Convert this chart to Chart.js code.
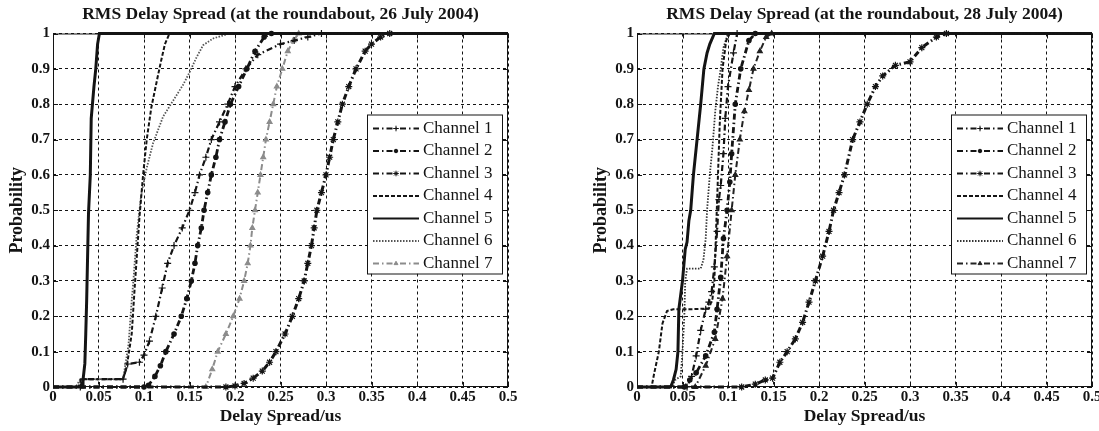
<!DOCTYPE html>
<html>
<head>
<meta charset="utf-8">
<script src="https://cdn.jsdelivr.net/npm/chart.js@4.4.1/dist/chart.umd.min.js"></script>
<style>
  html, body { margin: 0; padding: 0; background: #fff; overflow: hidden; }
  #wrap { position: relative; width: 1099px; height: 431px; overflow: hidden; }
  canvas { position: absolute; top: 0; }
  #left { left: 0; }
  #right { left: 584px; }
</style>
</head>
<body>
<div id="wrap">
  <canvas id="left" width="549" height="431"></canvas>
  <canvas id="right" width="549" height="431"></canvas>
</div>
<script>
const channelNames = ['Channel 1', 'Channel 2', 'Channel 3', 'Channel 4', 'Channel 5', 'Channel 6', 'Channel 7'];
const xTickLabels = ['0', '0.05', '0.1', '0.15', '0.2', '0.25', '0.3', '0.35', '0.4', '0.45', '0.5'];
const yTickLabels = ['0', '0.1', '0.2', '0.3', '0.4', '0.5', '0.6', '0.7', '0.8', '0.9', '1'];

// 26 July 2004: [delay spread (us), cumulative probability]
const jul26Ch1 = [[0,0],[0.03,0],[0.033,0.022],[0.077,0.022],[0.082,0.065],[0.095,0.07],[0.1,0.09],[0.106,0.13],
  [0.113,0.2],[0.12,0.28],[0.126,0.35],[0.133,0.4],[0.142,0.45],[0.15,0.5],[0.156,0.55],[0.161,0.6],[0.168,0.65],
  [0.174,0.7],[0.183,0.75],[0.192,0.8],[0.2,0.85],[0.212,0.9],[0.225,0.94],[0.25,0.97],[0.265,0.98],[0.28,0.99],[0.295,1],[0.5,1]];
const jul26Ch2 = [[0,0],[0.1,0],[0.105,0.005],[0.112,0.03],[0.118,0.06],[0.124,0.1],[0.133,0.15],[0.141,0.2],[0.147,0.25],
  [0.152,0.3],[0.156,0.35],[0.159,0.4],[0.163,0.45],[0.166,0.5],[0.17,0.55],[0.174,0.6],[0.179,0.65],[0.183,0.7],
  [0.189,0.75],[0.195,0.8],[0.204,0.85],[0.213,0.9],[0.222,0.95],[0.232,0.99],[0.24,1],[0.5,1]];
const jul26Ch3 = [[0,0],[0.19,0],[0.2,0.003],[0.21,0.01],[0.22,0.025],[0.23,0.045],[0.238,0.07],[0.245,0.1],[0.255,0.15],
  [0.263,0.2],[0.27,0.25],[0.276,0.3],[0.28,0.35],[0.284,0.4],[0.287,0.45],[0.29,0.5],[0.295,0.55],[0.3,0.6],[0.304,0.65],
  [0.308,0.7],[0.313,0.75],[0.318,0.8],[0.325,0.85],[0.333,0.9],[0.343,0.95],[0.35,0.97],[0.36,0.99],[0.37,1],[0.5,1]];
const jul26Ch4 = [[0,0],[0.028,0],[0.031,0.022],[0.077,0.022],[0.081,0.057],[0.0865,0.15],[0.09,0.29],[0.095,0.48],
  [0.099,0.6],[0.103,0.7],[0.108,0.79],[0.115,0.877],[0.119,0.925],[0.123,0.97],[0.128,1],[0.5,1]];
const jul26Ch5 = [[0,0],[0.033,0],[0.033,0.02],[0.035,0.066],[0.036,0.15],[0.037,0.245],[0.039,0.49],[0.041,0.6],
  [0.042,0.76],[0.045,0.85],[0.047,0.9],[0.049,0.97],[0.051,1],[0.5,1]];
const jul26Ch6 = [[0,0],[0.025,0],[0.03,0.022],[0.077,0.022],[0.083,0.12],[0.0865,0.245],[0.088,0.29],[0.092,0.43],
  [0.097,0.545],[0.103,0.62],[0.11,0.69],[0.121,0.765],[0.132,0.81],[0.143,0.855],[0.15,0.89],[0.158,0.934],
  [0.165,0.967],[0.176,0.986],[0.194,1],[0.5,1]];
const jul26Ch7 = [[0,0],[0.168,0],[0.175,0.05],[0.181,0.1],[0.19,0.15],[0.198,0.2],[0.205,0.25],[0.21,0.3],[0.214,0.35],
  [0.217,0.4],[0.219,0.45],[0.222,0.5],[0.225,0.55],[0.228,0.6],[0.231,0.65],[0.234,0.7],[0.238,0.75],[0.242,0.8],
  [0.246,0.85],[0.252,0.9],[0.258,0.95],[0.264,0.98],[0.27,1],[0.5,1]];

// 28 July 2004
const jul28Ch1 = [[0,0],[0.055,0],[0.06,0.03],[0.065,0.088],[0.07,0.16],[0.0755,0.22],[0.079,0.24],[0.082,0.27],
  [0.085,0.34],[0.088,0.44],[0.09,0.53],[0.092,0.57],[0.095,0.66],[0.097,0.76],[0.1,0.85],[0.106,0.945],[0.11,1],[0.5,1]];
const jul28Ch2 = [[0,0],[0.052,0],[0.058,0.02],[0.065,0.04],[0.0755,0.088],[0.085,0.155],[0.088,0.22],[0.092,0.31],
  [0.095,0.42],[0.099,0.5],[0.102,0.58],[0.104,0.66],[0.108,0.8],[0.114,0.9],[0.123,0.98],[0.13,1],[0.5,1]];
const jul28Ch3 = [[0,0],[0.115,0],[0.13,0.008],[0.141,0.02],[0.149,0.025],[0.157,0.07],[0.165,0.1],[0.174,0.136],
  [0.182,0.183],[0.189,0.24],[0.196,0.3],[0.204,0.37],[0.211,0.44],[0.216,0.5],[0.222,0.55],[0.228,0.6],[0.237,0.7],
  [0.245,0.75],[0.253,0.8],[0.262,0.85],[0.27,0.88],[0.284,0.91],[0.3,0.92],[0.313,0.96],[0.329,0.99],[0.34,1],[0.5,1]];
const jul28Ch4 = [[0,0],[0.016,0],[0.019,0.04],[0.024,0.1],[0.028,0.18],[0.033,0.215],[0.04,0.22],[0.06,0.22],
  [0.079,0.222],[0.083,0.25],[0.085,0.3],[0.087,0.45],[0.089,0.6],[0.091,0.75],[0.094,0.9],[0.098,0.98],[0.102,1],[0.5,1]];
const jul28Ch5 = [[0,0],[0.037,0],[0.04,0.02],[0.043,0.05],[0.045,0.1],[0.046,0.22],[0.05,0.3],[0.053,0.39],[0.055,0.41],
  [0.057,0.47],[0.059,0.5],[0.062,0.6],[0.066,0.7],[0.07,0.8],[0.0735,0.9],[0.077,0.945],[0.08,0.97],[0.085,1],[0.5,1]];
const jul28Ch6 = [[0,0],[0.038,0],[0.042,0.02],[0.048,0.03],[0.05,0.1],[0.052,0.2],[0.053,0.3],[0.055,0.335],[0.07,0.335],
  [0.073,0.36],[0.0755,0.42],[0.077,0.5],[0.08,0.6],[0.083,0.68],[0.086,0.78],[0.089,0.85],[0.092,0.9],[0.095,0.96],[0.1,1],[0.5,1]];
const jul28Ch7 = [[0,0],[0.064,0],[0.0755,0.06],[0.086,0.136],[0.094,0.25],[0.099,0.37],[0.104,0.5],[0.108,0.6],
  [0.113,0.7],[0.118,0.78],[0.123,0.84],[0.128,0.9],[0.135,0.95],[0.142,0.99],[0.148,1],[0.5,1]];

// MATLAB-like line specs for the seven channels
const lineStyles = [
  { dash: [6, 3, 1.5, 3], width: 2.2, marker: 'cross', size: 3.5 },
  { dash: [6, 3, 1.5, 3], width: 2.8, marker: 'circle', size: 2.2 },
  { dash: [6, 3, 1.5, 3], width: 3, marker: 'star', size: 3.5 },
  { dash: [4, 2], width: 2, marker: false, size: 0 },
  { dash: [], width: 3, marker: false, size: 0 },
  { dash: [1.5, 1.5], width: 1.8, marker: false, size: 0 },
  { dash: [6, 3, 1.5, 3], width: 2, marker: 'triangle', size: 2.8 }
];

const serif = '"Liberation Serif", "Times New Roman", serif';
const ink = '#141414';

const plotFrame = {
  id: 'plotFrame',
  afterDatasetsDraw(chart) {
    const { ctx, chartArea: a, scales } = chart;
    ctx.save();
    ctx.strokeStyle = ink;
    ctx.lineWidth = 1;
    ctx.setLineDash([]);
    ctx.strokeRect(a.left + 0.5, a.top + 0.5, a.right - a.left - 1, a.bottom - a.top - 1);
    ctx.beginPath();
    scales.x.ticks.forEach(t => {
      const px = Math.round(scales.x.getPixelForValue(t.value)) + 0.5;
      ctx.moveTo(px, a.bottom); ctx.lineTo(px, a.bottom - 5);
      ctx.moveTo(px, a.top); ctx.lineTo(px, a.top + 5);
    });
    scales.y.ticks.forEach(t => {
      const py = Math.round(scales.y.getPixelForValue(t.value)) + 0.5;
      ctx.moveTo(a.left, py); ctx.lineTo(a.left + 5, py);
      ctx.moveTo(a.right, py); ctx.lineTo(a.right - 5, py);
    });
    ctx.stroke();
    ctx.restore();
  }
};

const boxLegend = {
  id: 'boxLegend',
  afterDraw(chart, args, opts) {
    const { ctx, chartArea: a } = chart;
    const x0 = a.right - opts.right - opts.width;
    const y0 = a.top + opts.top;
    ctx.save();
    ctx.fillStyle = '#fff';
    ctx.fillRect(x0, y0, opts.width, opts.height);
    ctx.strokeStyle = ink;
    ctx.lineWidth = 1;
    ctx.strokeRect(x0 + 0.5, y0 + 0.5, opts.width, opts.height);
    chart.data.datasets.forEach((ds, i) => {
      const cy = y0 + opts.first + i * opts.gap;
      ctx.strokeStyle = ds.borderColor;
      ctx.lineWidth = Math.min(ds.borderWidth, 2.2);
      ctx.setLineDash(ds.borderDash);
      ctx.beginPath();
      ctx.moveTo(x0 + 6, cy);
      ctx.lineTo(x0 + 52, cy);
      ctx.stroke();
      ctx.setLineDash([]);
      if (ds.markerSize > 0) {
        ctx.fillStyle = ds.borderColor;
        ctx.lineWidth = 1;
        Chart.helpers.drawPoint(ctx, { pointStyle: ds.pointStyle, radius: ds.markerSize * 0.8, borderWidth: 1, rotation: 0 }, x0 + 29, cy);
      }
      ctx.fillStyle = ink;
      ctx.font = '17px ' + serif;
      ctx.textBaseline = 'middle';
      ctx.textAlign = 'left';
      ctx.fillText(ds.label, x0 + 56, cy);
    });
    ctx.restore();
  }
};

function makeChart(id, title, series, colors) {
  const datasets = series.map((pts, i) => {
    const st = lineStyles[i];
    const last = pts.length - 1;
    return {
      label: channelNames[i],
      data: pts.map(p => ({ x: p[0], y: p[1] })),
      borderColor: colors[i],
      backgroundColor: colors[i],
      borderWidth: st.width,
      borderDash: st.dash,
      pointStyle: st.marker || 'circle',
      markerSize: st.size,
      pointRadius: c => (c.dataIndex === 0 || c.dataIndex === last) ? 0 : st.size,
      pointBorderWidth: 1.2,
      tension: 0,
      fill: false,
      clip: 4
    };
  });
  return new Chart(document.getElementById(id), {
    type: 'line',
    data: { datasets },
    options: {
      responsive: false,
      animation: false,
      events: [],
      layout: { padding: { left: 0, right: 41, top: 0, bottom: 0 } },
      scales: {
        x: {
          type: 'linear',
          min: 0, max: 0.5,
          afterFit: s => { s.height = 44; },
          ticks: {
            stepSize: 0.05, padding: 1, color: ink, maxRotation: 0, autoSkip: false,
            font: { family: serif, size: 15, weight: 'bold' },
            callback: (v, i) => xTickLabels[i]
          },
          grid: { color: ink, lineWidth: 1, drawTicks: false },
          border: { display: false, dash: [3, 3] },
          title: { display: true, text: 'Delay Spread/us', color: ink, padding: { top: 0, bottom: 4 },
            font: { family: serif, size: 17.5, weight: 'bold' } }
        },
        y: {
          min: 0, max: 1,
          afterFit: s => { s.width = 53; },
          ticks: {
            stepSize: 0.1, padding: 3, color: ink,
            font: { family: serif, size: 15, weight: 'bold' },
            callback: (v, i) => yTickLabels[i]
          },
          grid: { color: ink, lineWidth: 1, drawTicks: false },
          border: { display: false, dash: [3, 3] },
          title: { display: true, text: 'Probability', color: ink, padding: { top: 7, bottom: 0 },
            font: { family: serif, size: 18, weight: 'bold' } }
        }
      },
      plugins: {
        legend: { display: false },
        tooltip: { enabled: false },
        title: {
          display: true, text: title, fullSize: false, color: ink,
          padding: { top: 4, bottom: 8.5 },
          font: { family: serif, size: 17.5, weight: 'bold' }
        },
        boxLegend: { width: 135, height: 159, right: 6, top: 81, first: 14, gap: 22.5 }
      }
    },
    plugins: [plotFrame, boxLegend]
  });
}

makeChart('left', 'RMS Delay Spread (at the roundabout, 26 July 2004)',
  [jul26Ch1, jul26Ch2, jul26Ch3, jul26Ch4, jul26Ch5, jul26Ch6, jul26Ch7],
  [ink, ink, ink, ink, ink, '#555', '#8c8c8c']);
makeChart('right', 'RMS Delay Spread (at the roundabout, 28 July 2004)',
  [jul28Ch1, jul28Ch2, jul28Ch3, jul28Ch4, jul28Ch5, jul28Ch6, jul28Ch7],
  [ink, ink, ink, ink, ink, '#333', '#222']);
</script>
</body>
</html>
